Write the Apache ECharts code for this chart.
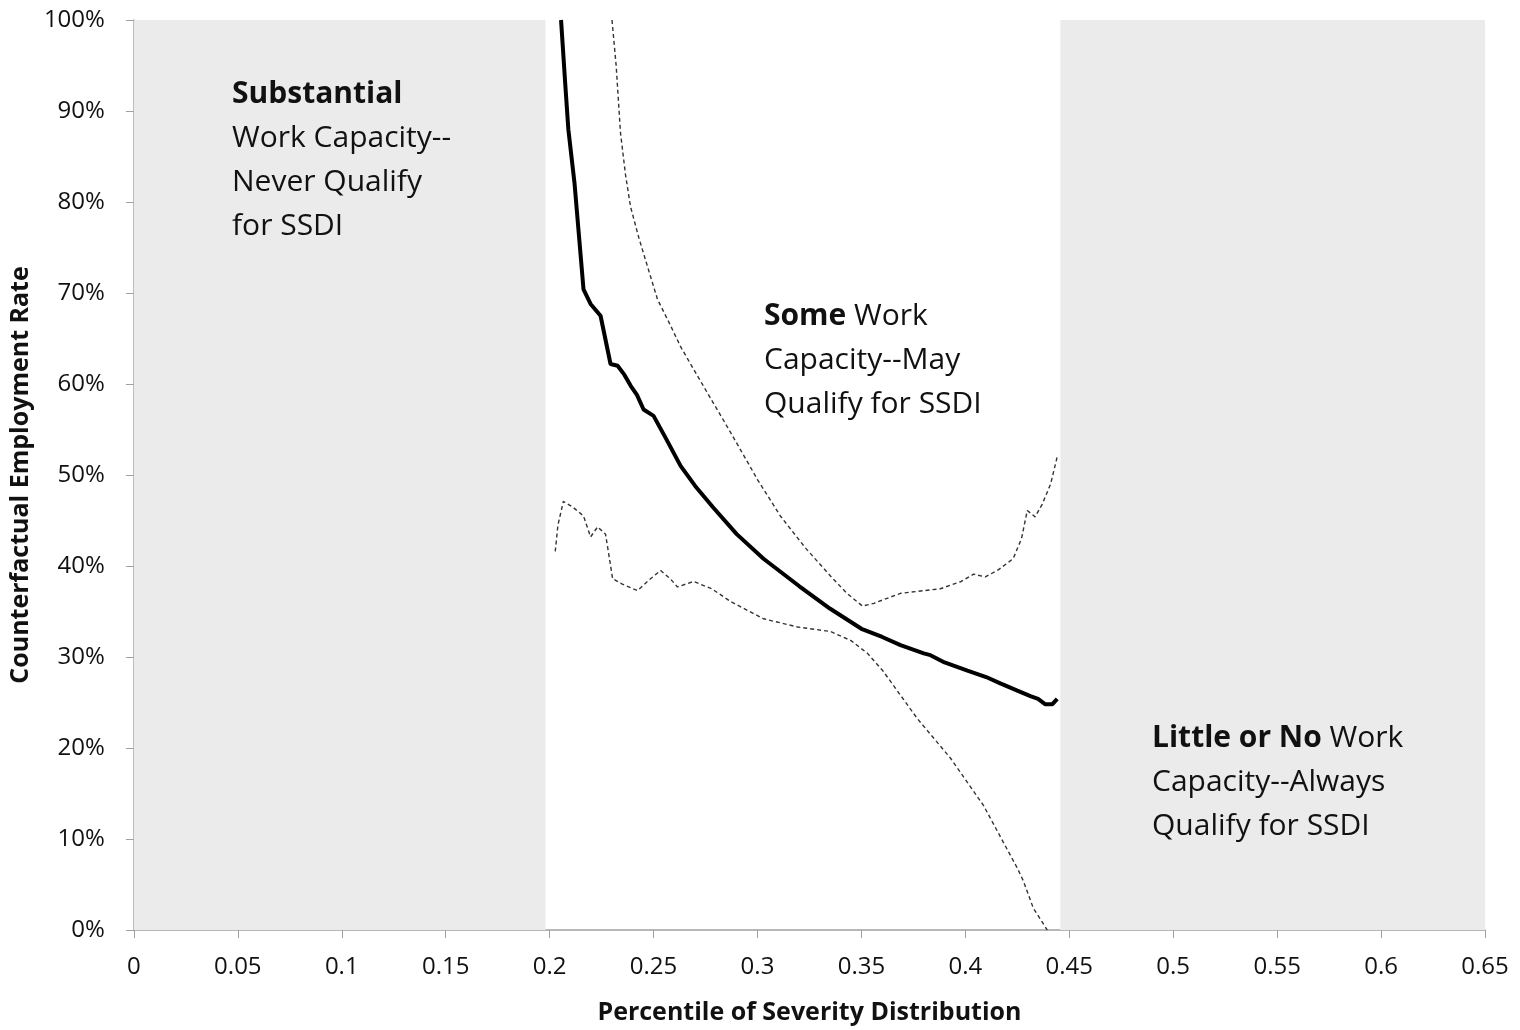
<!DOCTYPE html>
<html><head><meta charset="utf-8">
<script src="https://cdn.jsdelivr.net/npm/echarts@6/dist/echarts.min.js"></script>
<style>html,body{margin:0;padding:0;background:#fff}#c{width:1520px;height:1030px}</style>
</head><body><div id="c"></div>
<script>
// Estimate (solid)
const mainX = [0.2055,0.2075,0.2090,0.2120,0.2163,0.2197,0.2245,0.2293,0.2327,0.2360,0.2390,0.2420,0.2452,0.2500,0.2560,0.2630,0.2700,0.2788,0.2900,0.3029,0.3200,0.3350,0.3500,0.3600,0.3688,0.3800,0.3832,0.3900,0.4010,0.4100,0.4168,0.4250,0.4313,0.4350,0.4385,0.4418,0.4442];
const mainY = [100,93,88,82,70.4,68.8,67.5,62.2,62.0,61.0,59.8,58.8,57.2,56.5,54.0,51.0,48.8,46.4,43.5,40.8,37.8,35.3,33.1,32.2,31.3,30.4,30.2,29.4,28.5,27.8,27.1,26.3,25.7,25.4,24.8,24.8,25.4];
// Upper bound (dashed)
const upperX = [0.2300,0.2320,0.2341,0.2365,0.2389,0.2430,0.2471,0.2519,0.2580,0.2630,0.2711,0.2870,0.3000,0.3110,0.3230,0.3351,0.3430,0.3505,0.3560,0.3688,0.3880,0.3980,0.4040,0.4096,0.4160,0.4230,0.4270,0.4298,0.4336,0.4370,0.4410,0.4442];
const upperY = [100,95,87.6,83,79.5,76,72.9,69.3,66.5,64.1,60.9,54.7,49.5,45.5,42.0,38.9,37.0,35.6,35.9,37.0,37.5,38.3,39.1,38.8,39.6,40.8,43.0,46.1,45.4,46.8,49.0,52.0];
// Lower bound (dashed)
const lowerX = [0.2027,0.2040,0.2066,0.2110,0.2163,0.2197,0.2231,0.2269,0.2290,0.2303,0.2350,0.2423,0.2480,0.2534,0.2580,0.2615,0.2692,0.2780,0.2870,0.3029,0.3193,0.3351,0.3450,0.3529,0.3606,0.3770,0.3928,0.4087,0.4250,0.4279,0.4327,0.4394];
const lowerY = [41.6,44.5,47.1,46.5,45.5,43.2,44.3,43.5,40.5,38.6,38.0,37.3,38.5,39.5,38.6,37.7,38.3,37.5,36.1,34.2,33.3,32.8,31.8,30.4,28.4,23.2,18.9,13.7,6.8,5.4,2.4,0];
// Shaded regions (x ranges)
const regions = [[0, 0.198], [0.4457, 0.65]];

const zip = (xs, ys) => xs.map((x, i) => [x, ys[i]]);
const FONT = '"Open Sans", sans-serif';
const chart = echarts.init(document.getElementById('c'), null, {renderer: 'canvas'});
const dashed = {type: 'line', symbol: 'none', smooth: false, clip: true,
  lineStyle: {color: '#333', width: 1.4, type: [4, 3]}, z: 3};
const titleStyle = {color: '#111', fontSize: 25, fontWeight: 'bold', fontFamily: FONT};
const rich = {b: {fontWeight: 'bold', fontSize: 30, fontFamily: FONT, fill: '#111', lineHeight: 44}};
chart.setOption({
  animation: false,
  grid: {left: 133, right: 35, top: 20, bottom: 98},
  xAxis: {
    type: 'value', min: 0, max: 0.65, interval: 0.05,
    axisLine: {lineStyle: {color: '#a0a0a0', width: 1.5}},
    axisTick: {show: true, length: 8, lineStyle: {color: '#a0a0a0'}},
    splitLine: {show: false},
    axisLabel: {color: '#111', fontSize: 24, fontFamily: FONT, margin: 25,
      formatter: v => String(+v.toFixed(2))},
    name: 'Percentile of Severity Distribution', nameLocation: 'middle', nameGap: 70,
    nameTextStyle: titleStyle
  },
  yAxis: {
    type: 'value', min: 0, max: 100, interval: 10,
    axisLine: {show: true, lineStyle: {color: '#a0a0a0', width: 1.5}},
    axisTick: {show: true, length: 8, lineStyle: {color: '#a0a0a0'}},
    splitLine: {show: false},
    axisLabel: {color: '#111', fontSize: 24, fontFamily: FONT, margin: 29, formatter: '{value}%'},
    name: 'Counterfactual Employment Rate', nameLocation: 'middle', nameGap: 96,
    nameTextStyle: titleStyle
  },
  series: [
    {type: 'line', symbol: 'none', data: [], silent: true, z: 1,
     markArea: {silent: true, itemStyle: {color: '#ebebeb'},
       data: regions.map(r => [{xAxis: r[0]}, {xAxis: r[1]}])}},
    Object.assign({}, dashed, {data: zip(upperX, upperY)}),
    Object.assign({}, dashed, {data: zip(lowerX, lowerY)}),
    {type: 'line', symbol: 'none', clip: true, data: zip(mainX, mainY),
     lineStyle: {color: '#000', width: 4}, z: 4}
  ],
  graphic: [
    {type: 'text', left: 232, top: 72, z: 10, style: {
      text: '{b|Substantial}\nWork Capacity--\nNever Qualify\nfor SSDI',
      font: '30px ' + FONT, fill: '#111', lineHeight: 44, rich: rich}},
    {type: 'text', left: 764, top: 294, z: 10, style: {
      text: '{b|Some} Work\nCapacity--May\nQualify for SSDI',
      font: '30px ' + FONT, fill: '#111', lineHeight: 44, rich: rich}},
    {type: 'text', left: 1152, top: 716, z: 10, style: {
      text: '{b|Little or No} Work\nCapacity--Always\nQualify for SSDI',
      font: '30px ' + FONT, fill: '#111', lineHeight: 44, rich: rich}}
  ]
});
</script></body></html>
